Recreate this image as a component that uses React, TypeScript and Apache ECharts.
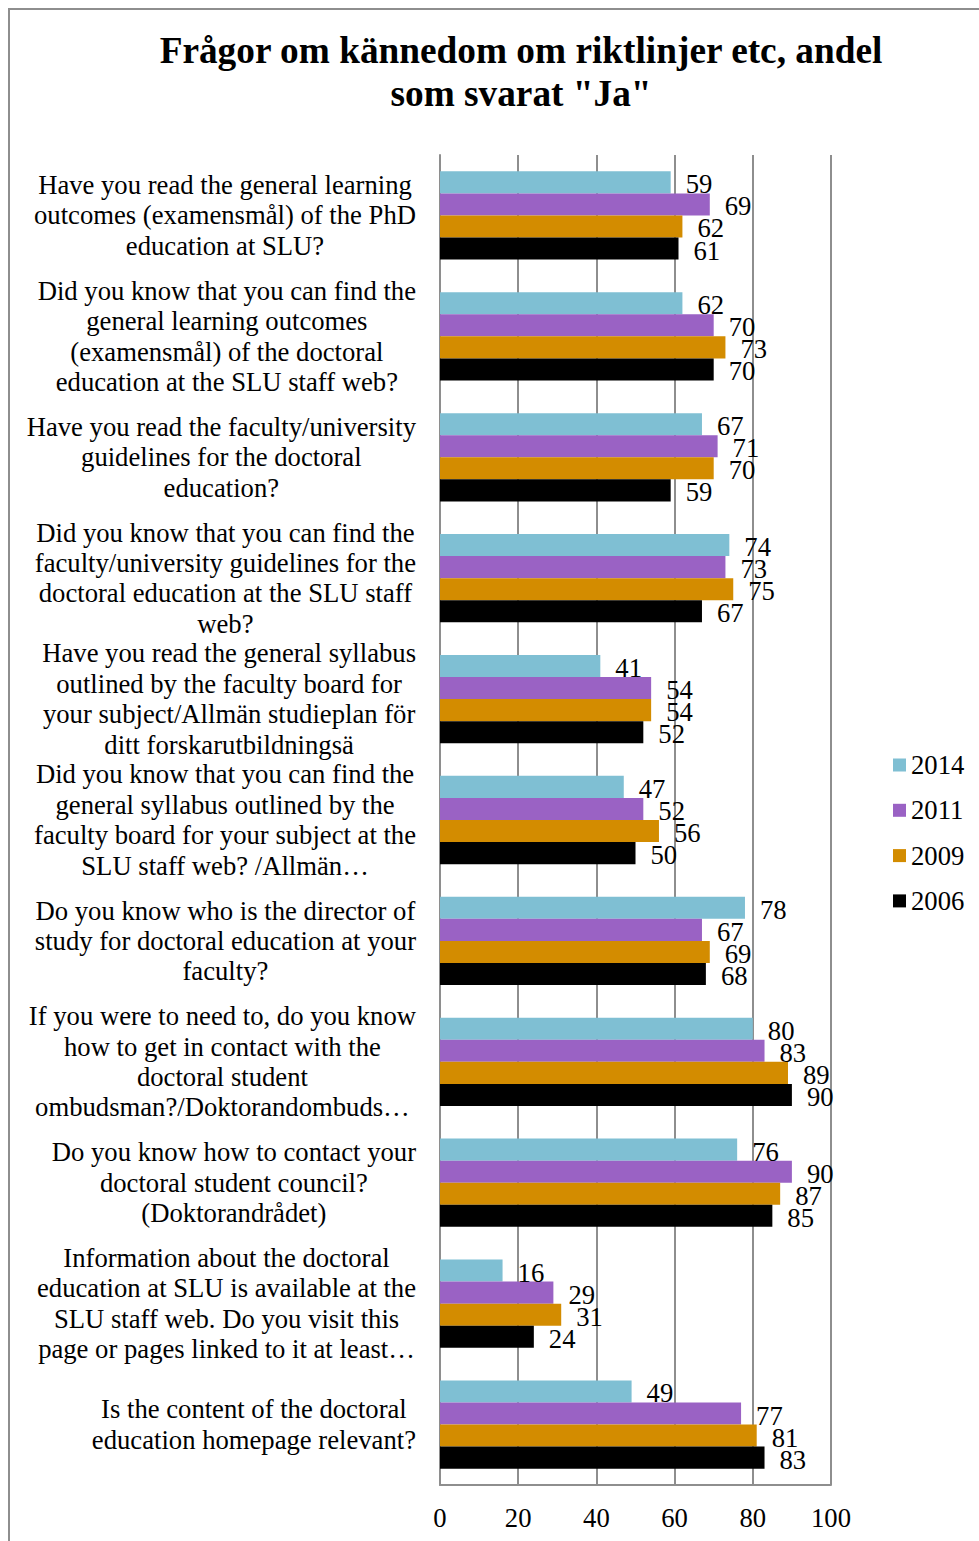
import React, { useEffect, useRef } from "react";
import * as echarts from "echarts";

const categories: string[] = [
  "Have you read the general learning\noutcomes (examensmål) of the PhD\neducation at SLU?",
  "Did you know that you can find the\ngeneral learning outcomes\n(examensmål) of the doctoral\neducation at the SLU staff web?",
  "Have you read the faculty/university\nguidelines for the doctoral\neducation?",
  "Did you know that you can find the\nfaculty/university guidelines for the\ndoctoral education at the SLU staff\nweb?",
  "Have you read the general syllabus\noutlined by the faculty board for\nyour subject/Allmän studieplan för\nditt forskarutbildningsä",
  "Did you know that you can find the\ngeneral syllabus outlined by the\nfaculty board for your subject at the\nSLU staff web? /Allmän…",
  "Do you know who is the director of\nstudy for doctoral education at your\nfaculty?",
  "If you were to need to, do you know\nhow to get in contact with the\ndoctoral student\nombudsman?/Doktorandombuds…",
  "Do you know how to contact your\ndoctoral student council?\n(Doktorandrådet)",
  "Information about the doctoral\neducation at SLU is available at the\nSLU staff web. Do you visit this\npage or pages linked to it at least…",
  "Is the content of the doctoral\neducation homepage relevant?",
];

const seriesNames: string[] = ["2014", "2011", "2009", "2006"];
const values2014: number[] = [59, 62, 67, 74, 41, 47, 78, 80, 76, 16, 49];
const values2011: number[] = [69, 70, 71, 73, 54, 52, 67, 83, 90, 29, 77];
const values2009: number[] = [62, 73, 70, 75, 54, 56, 69, 89, 87, 31, 81];
const values2006: number[] = [61, 70, 59, 67, 52, 50, 68, 90, 85, 24, 83];
const seriesColors: string[] = ["#7fbfd3", "#9a62c4", "#d38c00", "#000000"];
const titleText = 'Frågor om kännedom om riktlinjer etc, andel\nsom svarat "Ja"';

const FONT = "'Liberation Serif', 'Times New Roman', serif";
const FS = 26.67;
const GRAY = "#8e8e8e";

export default function App() {
  const ref = useRef<HTMLDivElement>(null);
  useEffect(() => {
    if (!ref.current) return;
    const chart = echarts.init(ref.current, undefined, { renderer: "svg" });
    const allValues = [values2014, values2011, values2009, values2006];
    chart.setOption({
      animation: false,
      backgroundColor: "#ffffff",
      textStyle: { fontFamily: FONT },
      graphic: [
        {
          type: "rect",
          shape: { x: 9, y: 9, width: 1200, height: 2000 },
          style: { fill: "none", stroke: GRAY, lineWidth: 2 },
          silent: true,
        },
        {
          type: "text",
          x: 521,
          y: 71.5,
          style: {
            text: titleText,
            fontFamily: FONT,
            fontWeight: "bold",
            fontSize: 37.3,
            lineHeight: 43,
            fill: "#000",
            textAlign: "center",
            textVerticalAlign: "middle",
          },
        },
      ],
      legend: {
        orient: "vertical",
        left: 893,
        top: 750,
        padding: 0,
        itemWidth: 13,
        itemHeight: 13,
        itemGap: 15.3,
        icon: "rect",
        data: seriesNames,
        textStyle: { fontFamily: FONT, fontSize: FS, color: "#000", lineHeight: 30, padding: [0, 0, 0, 0] },
      },
      grid: { left: 440, top: 155, width: 391, height: 1330, containLabel: false },
      xAxis: {
        type: "value",
        min: 0,
        max: 100,
        interval: 20,
        axisLine: { show: true, lineStyle: { color: GRAY, width: 2 } },
        axisTick: { show: false },
        splitLine: { show: true, lineStyle: { color: GRAY, width: 2 } },
        axisLabel: { fontFamily: FONT, fontSize: FS, color: "#000", margin: 19 },
      },
      yAxis: {
        type: "category",
        inverse: true,
        data: categories,
        axisLine: { show: true, lineStyle: { color: GRAY, width: 2 } },
        axisTick: { show: false },
        splitLine: { show: false },
        axisLabel: {
          interval: 0,
          align: "right",
          margin: 24,
          formatter: (v: string) => v.split("\n").map((l) => `{c|${l}}`).join("\n"),
          rich: {
            c: { align: "center", fontFamily: FONT, fontSize: FS, lineHeight: 30.4, color: "#000" },
          },
        },
      },
      series: seriesNames.map((name, i) => ({
        name,
        type: "bar",
        data: allValues[i],
        barGap: "0%",
        barCategoryGap: "27%",
        itemStyle: { color: seriesColors[i] },
        label: {
          show: true,
          position: "right",
          distance: 15,
          offset: [0, 2],
          fontFamily: FONT,
          fontSize: FS,
          lineHeight: 21,
          color: "#000",
        },
      })),
    });
    return () => chart.dispose();
  }, []);
  return (
    <div
      ref={ref}
      style={{ position: "fixed", left: 0, top: 0, width: 979, height: 1541 }}
    />
  );
}
